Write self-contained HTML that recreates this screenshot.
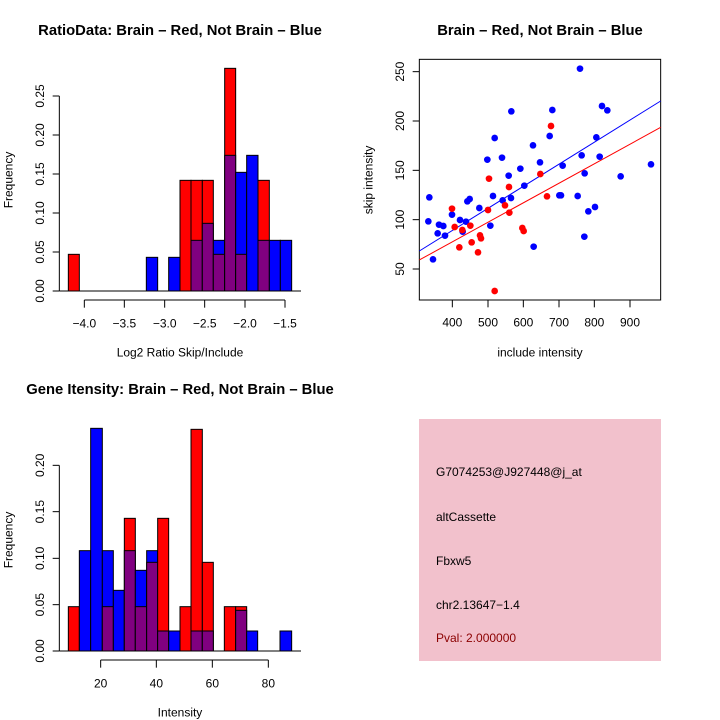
<!DOCTYPE html>
<html><head><meta charset="utf-8"><style>
html,body{margin:0;padding:0;background:#fff;}
svg{display:block;font-family:"Liberation Sans",sans-serif;}
</style></head><body>
<svg width="720" height="720" viewBox="0 0 720 720" xmlns="http://www.w3.org/2000/svg">
<rect width="720" height="720" fill="#fff"/>
<g font-weight="bold" font-size="14.8" text-anchor="middle" fill="#000">
<text x="180" y="35">RatioData: Brain – Red, Not Brain – Blue</text>
<text x="540" y="35">Brain – Red, Not Brain – Blue</text>
<text x="180" y="394">Gene Itensity: Brain – Red, Not Brain – Blue</text>
</g>

<g transform="translate(0,50) scale(0.33333)" stroke="#000" stroke-width="3">
<rect x="205" y="613" width="33" height="110" fill="#f00"/>
<rect x="439" y="622" width="34" height="101" fill="#00f"/>
<rect x="506" y="622" width="34" height="101" fill="#00f"/>
<rect x="540" y="391" width="33" height="332" fill="#f00"/>
<rect x="573" y="391" width="34" height="332" fill="#f00"/>
<rect x="573" y="571" width="34" height="152" fill="#800080"/>
<rect x="607" y="391" width="33" height="332" fill="#f00"/>
<rect x="607" y="520" width="33" height="203" fill="#800080"/>
<rect x="640" y="571" width="34" height="152" fill="#00f"/>
<rect x="640" y="613" width="34" height="110" fill="#800080"/>
<rect x="674" y="55" width="33" height="668" fill="#f00"/>
<rect x="674" y="316" width="33" height="407" fill="#800080"/>
<rect x="707" y="367" width="33" height="356" fill="#00f"/>
<rect x="707" y="613" width="33" height="110" fill="#800080"/>
<rect x="740" y="316" width="34" height="407" fill="#00f"/>
<rect x="774" y="391" width="34" height="332" fill="#f00"/>
<rect x="774" y="571" width="34" height="152" fill="#800080"/>
<rect x="808" y="571" width="33" height="152" fill="#00f"/>
<rect x="841" y="571" width="34" height="152" fill="#00f"/>
<line x1="178" y1="723" x2="903" y2="723"/>
<line x1="178" y1="138" x2="178" y2="723"/>
<g>
<line x1="158" y1="723" x2="178" y2="723"/><line x1="158" y1="606" x2="178" y2="606"/>
<line x1="158" y1="489" x2="178" y2="489"/><line x1="158" y1="372" x2="178" y2="372"/>
<line x1="158" y1="255" x2="178" y2="255"/><line x1="158" y1="138" x2="178" y2="138"/>
</g>
<line x1="253" y1="750" x2="855" y2="750"/>
<line x1="253" y1="750" x2="253" y2="773"/><line x1="373" y1="750" x2="373" y2="773"/>
<line x1="494" y1="750" x2="494" y2="773"/><line x1="614" y1="750" x2="614" y2="773"/>
<line x1="735" y1="750" x2="735" y2="773"/><line x1="855" y1="750" x2="855" y2="773"/>
<g stroke="none" fill="#000" font-size="36" text-anchor="middle">
<text transform="translate(132,723) rotate(-90)">0.00</text>
<text transform="translate(132,606) rotate(-90)">0.05</text>
<text transform="translate(132,489) rotate(-90)">0.10</text>
<text transform="translate(132,372) rotate(-90)">0.15</text>
<text transform="translate(132,255) rotate(-90)">0.20</text>
<text transform="translate(132,138) rotate(-90)">0.25</text>
<text x="253" y="832">−4.0</text><text x="373" y="832">−3.5</text>
<text x="494" y="832">−3.0</text><text x="614" y="832">−2.5</text>
<text x="735" y="832">−2.0</text><text x="855" y="832">−1.5</text>
<text x="540" y="920">Log2 Ratio Skip/Include</text>
<text transform="translate(38,390) rotate(-90)">Frequency</text>
</g>
</g>

<g transform="translate(0,400) scale(0.33333)" stroke="#000" stroke-width="3">
<rect x="205" y="620" width="33" height="133" fill="#f00"/>
<rect x="238" y="452" width="34" height="301" fill="#00f"/>
<rect x="272" y="85" width="35" height="668" fill="#00f"/>
<rect x="307" y="452" width="33" height="301" fill="#00f"/>
<rect x="307" y="620" width="33" height="133" fill="#800080"/>
<rect x="340" y="571" width="33" height="182" fill="#00f"/>
<rect x="373" y="355" width="33" height="398" fill="#f00"/>
<rect x="373" y="452" width="33" height="301" fill="#800080"/>
<rect x="406" y="511" width="34" height="242" fill="#00f"/>
<rect x="406" y="620" width="34" height="133" fill="#800080"/>
<rect x="440" y="452" width="33" height="301" fill="#00f"/>
<rect x="440" y="487" width="33" height="266" fill="#800080"/>
<rect x="473" y="355" width="33" height="398" fill="#f00"/>
<rect x="473" y="693" width="33" height="60" fill="#800080"/>
<rect x="506" y="693" width="34" height="60" fill="#00f"/>
<rect x="540" y="620" width="33" height="133" fill="#f00"/>
<rect x="573" y="88" width="34" height="665" fill="#f00"/>
<rect x="573" y="693" width="34" height="60" fill="#800080"/>
<rect x="607" y="487" width="33" height="266" fill="#f00"/>
<rect x="607" y="693" width="33" height="60" fill="#800080"/>
<rect x="673" y="620" width="34" height="133" fill="#f00"/>
<rect x="707" y="620" width="33" height="133" fill="#f00"/>
<rect x="707" y="631" width="33" height="122" fill="#800080"/>
<rect x="740" y="693" width="33" height="60" fill="#00f"/>
<rect x="840" y="693" width="35" height="60" fill="#00f"/>
<line x1="178" y1="753" x2="903" y2="753"/>
<line x1="178" y1="196" x2="178" y2="753"/>
<line x1="158" y1="753" x2="178" y2="753"/><line x1="158" y1="614" x2="178" y2="614"/>
<line x1="158" y1="475" x2="178" y2="475"/><line x1="158" y1="335" x2="178" y2="335"/>
<line x1="158" y1="196" x2="178" y2="196"/>
<line x1="302" y1="780" x2="805" y2="780"/>
<line x1="302" y1="780" x2="302" y2="803"/><line x1="469" y1="780" x2="469" y2="803"/>
<line x1="637" y1="780" x2="637" y2="803"/><line x1="805" y1="780" x2="805" y2="803"/>
<g stroke="none" fill="#000" font-size="36" text-anchor="middle">
<text transform="translate(132,753) rotate(-90)">0.00</text>
<text transform="translate(132,614) rotate(-90)">0.05</text>
<text transform="translate(132,475) rotate(-90)">0.10</text>
<text transform="translate(132,335) rotate(-90)">0.15</text>
<text transform="translate(132,196) rotate(-90)">0.20</text>
<text x="302" y="862">20</text><text x="469" y="862">40</text>
<text x="637" y="862">60</text><text x="805" y="862">80</text>
<text x="540" y="950">Intensity</text>
<text transform="translate(38,420) rotate(-90)">Frequency</text>
</g>
</g>

<g transform="translate(360,50) scale(0.33333)">
<rect x="178" y="28" width="724" height="722" fill="none" stroke="#000" stroke-width="3"/>
<g stroke="#000" stroke-width="3">
<line x1="158" y1="65" x2="178" y2="65"/><line x1="158" y1="213" x2="178" y2="213"/>
<line x1="158" y1="361" x2="178" y2="361"/><line x1="158" y1="509" x2="178" y2="509"/>
<line x1="158" y1="657" x2="178" y2="657"/>
<line x1="277" y1="750" x2="277" y2="772"/><line x1="384" y1="750" x2="384" y2="772"/>
<line x1="490" y1="750" x2="490" y2="772"/><line x1="597" y1="750" x2="597" y2="772"/>
<line x1="703" y1="750" x2="703" y2="772"/><line x1="810" y1="750" x2="810" y2="772"/>
</g>
<g fill="#000" font-size="36" text-anchor="middle">
<text transform="translate(132,65) rotate(-90)">250</text>
<text transform="translate(132,213) rotate(-90)">200</text>
<text transform="translate(132,361) rotate(-90)">150</text>
<text transform="translate(132,509) rotate(-90)">100</text>
<text transform="translate(132,657) rotate(-90)">50</text>
<text x="277" y="830">400</text><text x="384" y="830">500</text>
<text x="490" y="830">600</text><text x="597" y="830">700</text>
<text x="703" y="830">800</text><text x="810" y="830">900</text>
<text x="540" y="920">include intensity</text>
<text transform="translate(38,390) rotate(-90)">skip intensity</text>
</g>
<line x1="178" y1="603" x2="902" y2="153" stroke="#00f" stroke-width="3"/>
<line x1="178" y1="630" x2="902" y2="232" stroke="#f00" stroke-width="3"/>
<g fill="#00f">
<circle cx="208" cy="442" r="10"/><circle cx="205" cy="514" r="10"/><circle cx="219" cy="628" r="10"/>
<circle cx="233" cy="550" r="10"/><circle cx="237" cy="524" r="10"/><circle cx="250" cy="528" r="10"/>
<circle cx="255" cy="557" r="10"/><circle cx="276" cy="494" r="10"/><circle cx="300" cy="510" r="10"/>
<circle cx="308" cy="545" r="10"/><circle cx="318" cy="515" r="10"/><circle cx="322" cy="454" r="10"/>
<circle cx="329" cy="447" r="10"/><circle cx="358" cy="474" r="10"/><circle cx="391" cy="527" r="10"/>
<circle cx="399" cy="438" r="10"/><circle cx="404" cy="264" r="10"/><circle cx="426" cy="323" r="10"/>
<circle cx="428" cy="451" r="10"/><circle cx="382" cy="329" r="10"/><circle cx="446" cy="377" r="10"/>
<circle cx="453" cy="444" r="10"/><circle cx="454" cy="184" r="10"/><circle cx="481" cy="356" r="10"/>
<circle cx="493" cy="407" r="10"/><circle cx="519" cy="286" r="10"/><circle cx="521" cy="590" r="10"/>
<circle cx="540" cy="337" r="10"/><circle cx="569" cy="258" r="10"/><circle cx="577" cy="180" r="10"/>
<circle cx="608" cy="347" r="10"/><circle cx="598" cy="436" r="10"/><circle cx="603" cy="436" r="10"/>
<circle cx="653" cy="438" r="10"/><circle cx="660" cy="56" r="10"/><circle cx="665" cy="316" r="10"/>
<circle cx="673" cy="560" r="10"/><circle cx="674" cy="370" r="10"/><circle cx="685" cy="484" r="10"/>
<circle cx="705" cy="471" r="10"/><circle cx="709" cy="262" r="10"/><circle cx="719" cy="320" r="10"/>
<circle cx="726" cy="168" r="10"/><circle cx="742" cy="181" r="10"/><circle cx="782" cy="379" r="10"/>
<circle cx="873" cy="343" r="10"/>
</g>
<g fill="#f00">
<circle cx="276" cy="476" r="10"/><circle cx="284" cy="531" r="10"/><circle cx="298" cy="592" r="10"/>
<circle cx="307" cy="540" r="10"/><circle cx="331" cy="527" r="10"/><circle cx="335" cy="577" r="10"/>
<circle cx="354" cy="607" r="10"/><circle cx="360" cy="556" r="10"/><circle cx="363" cy="565" r="10"/>
<circle cx="384" cy="480" r="10"/><circle cx="387" cy="386" r="10"/><circle cx="435" cy="466" r="10"/>
<circle cx="447" cy="411" r="10"/><circle cx="448" cy="488" r="10"/><circle cx="404" cy="723" r="10"/>
<circle cx="487" cy="534" r="10"/><circle cx="491" cy="543" r="10"/><circle cx="541" cy="372" r="10"/>
<circle cx="561" cy="439" r="10"/><circle cx="573" cy="228" r="10"/>
</g>
</g>

<rect x="419" y="419" width="242" height="242" fill="#f2c1cc"/>
<g font-size="12" fill="#000">
<text x="436" y="476">G7074253@J927448@j_at</text>
<text x="436" y="521">altCassette</text>
<text x="436" y="565">Fbxw5</text>
<text x="436" y="609">chr2.13647−1.4</text>
<text x="436" y="642" fill="#8b0000">Pval: 2.000000</text>
</g>
</svg>
</body></html>
